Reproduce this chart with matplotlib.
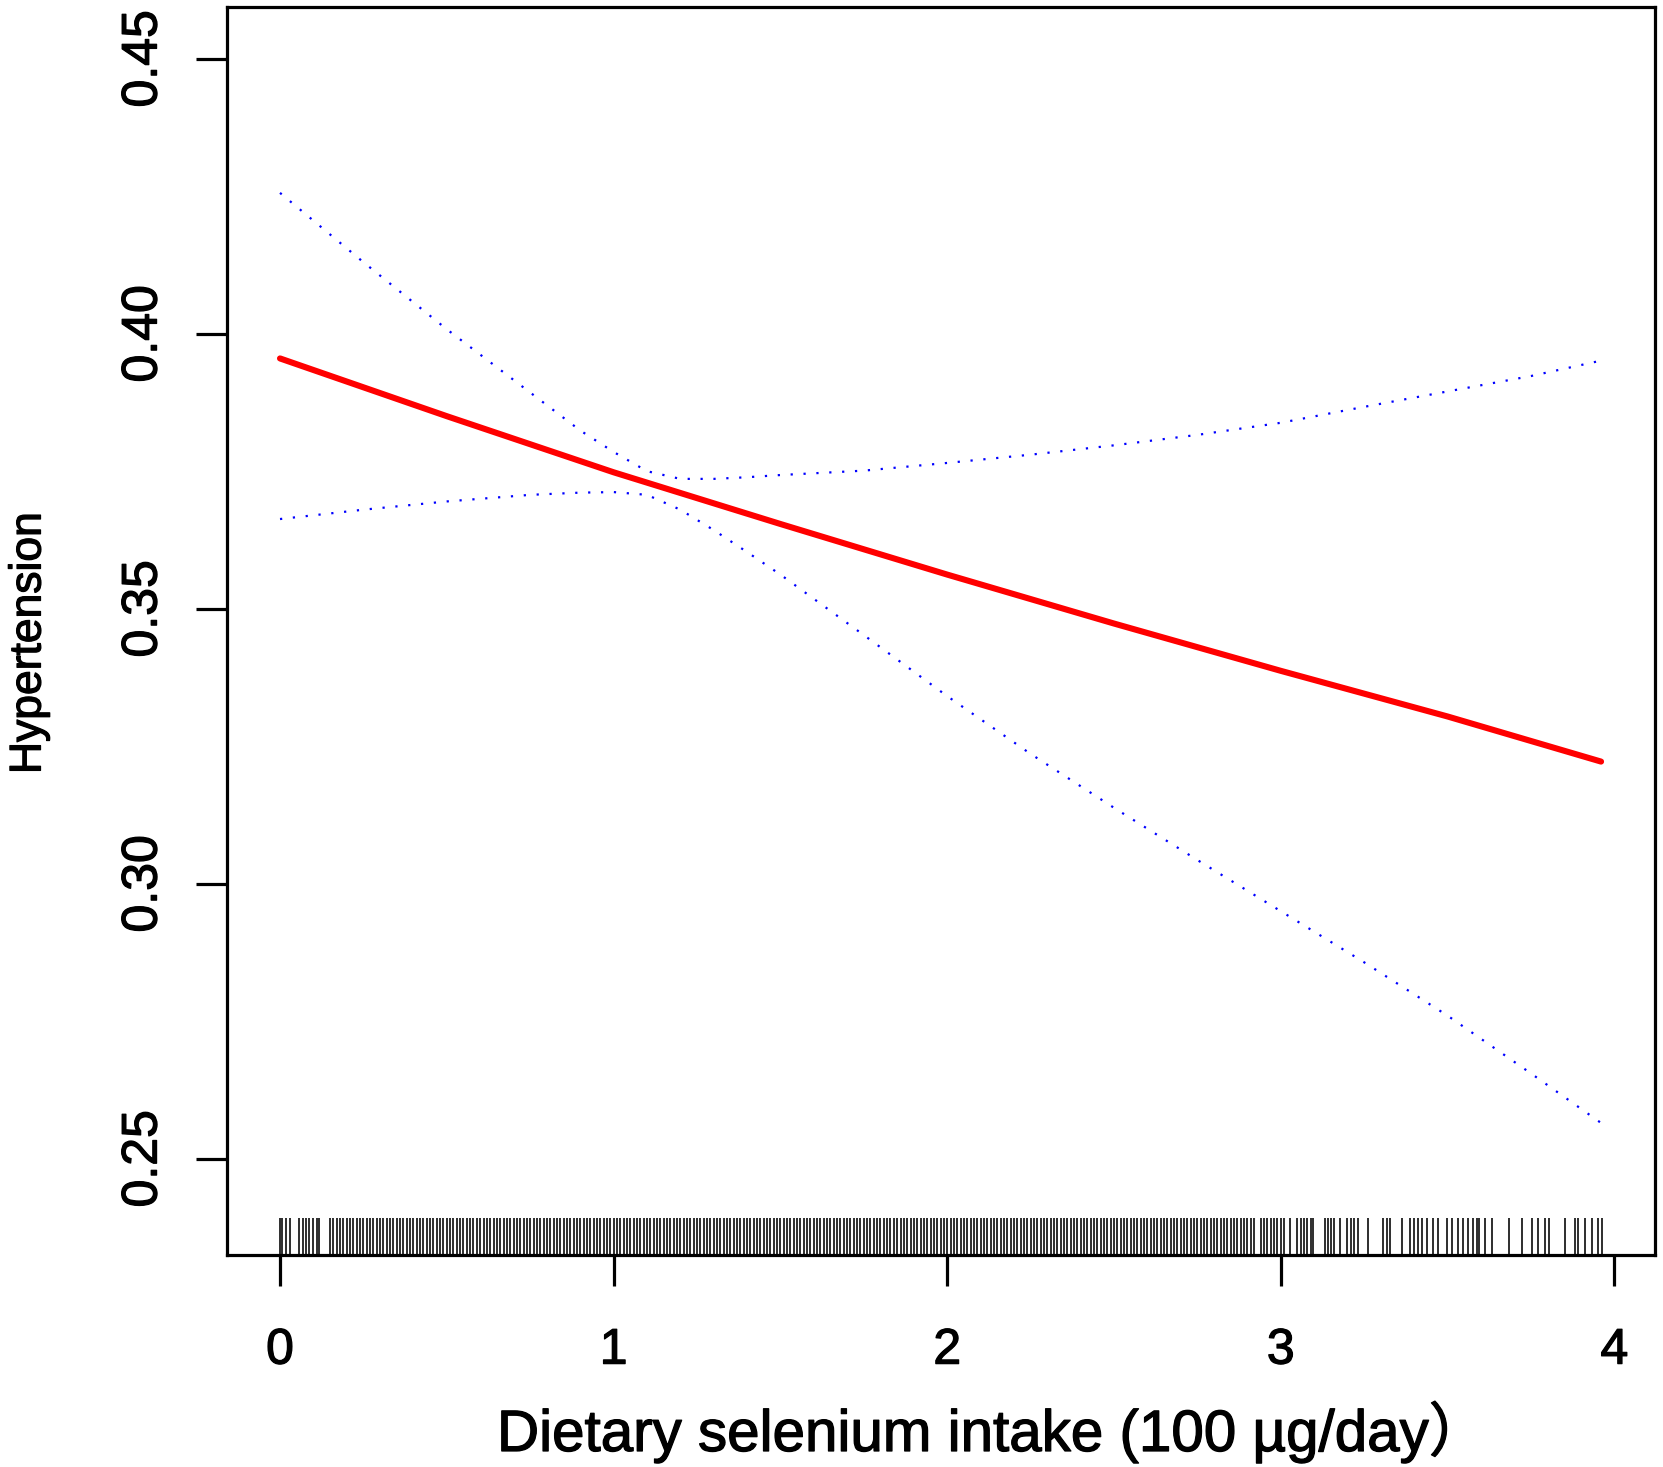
import matplotlib
matplotlib.use("Agg")
import matplotlib.pyplot as plt
import matplotlib.transforms as mtransforms
import matplotlib.patheffects as pe

# ---------------- data ----------------
fit_x = [0.0, 0.5, 1.0, 1.5, 2.0, 2.5, 3.0, 3.5, 3.96]
fit_y = [0.3955, 0.3850, 0.3748, 0.3654, 0.3562, 0.3473, 0.3387, 0.3304, 0.3222]

ci_x = [0.0, 0.25, 0.5, 0.75, 0.9, 1.0, 1.1, 1.2, 1.3, 1.4, 1.5, 1.75,
        2.0, 2.25, 2.5, 2.75, 3.0, 3.25, 3.5, 3.75, 3.96]
ci_upper = [0.4256, 0.4130, 0.4008, 0.3893, 0.3824, 0.3785, 0.3750, 0.3736,
            0.3736, 0.3739, 0.3743, 0.3751, 0.3765, 0.3780, 0.3797, 0.3816,
            0.3838, 0.3867, 0.3895, 0.3923, 0.3951]
ci_lower = [0.3663, 0.3680, 0.3695, 0.3707, 0.3711, 0.3712, 0.3707, 0.3680,
            0.3643, 0.3603, 0.3562, 0.3452, 0.3341, 0.3236, 0.3138, 0.3043,
            0.2950, 0.2857, 0.2760, 0.2655, 0.2565]

# rug (observed intakes, 100 ug/day)
rug_left = [0.0, 0.007, 0.017, 0.029, 0.058, 0.070, 0.078, 0.088, 0.098,
            0.110, 0.118]
rug_dense_hundredths = [
    15, 16, 17, 18, 19, 20, 21, 22, 23, 24, 25, 26, 27, 28, 29, 30, 31, 32, 33, 34,
    35, 36, 37, 38, 39, 40, 41, 42, 43, 44, 45, 46, 47, 48, 49, 50, 51, 52, 53, 54,
    55, 56, 57, 58, 59, 60, 61, 62, 63, 64, 65, 66, 67, 68, 69, 70, 71, 72, 73, 74,
    75, 76, 77, 78, 79, 80, 81, 82, 83, 84, 85, 86, 87, 88, 89, 90, 91, 92, 93, 94,
    95, 96, 97, 98, 99, 100, 101, 102, 103, 104, 105, 106, 107, 108, 109, 110, 111,
    112, 113, 114, 115, 116, 117, 118, 119, 120, 121, 122, 123, 124, 125, 126, 127,
    128, 129, 130, 131, 132, 133, 134, 135, 136, 137, 138, 139, 140, 141, 142, 143,
    144, 145, 146, 147, 148, 149, 150, 151, 152, 153, 154, 155, 156, 157, 158, 159,
    160, 161, 162, 163, 164, 165, 166, 167, 168, 169, 170, 171, 172, 173, 174, 175,
    176, 177, 178, 179, 180, 181, 182, 183, 184, 185, 186, 187, 188, 189, 190, 191,
    192, 193, 194, 195, 196, 197, 198, 199, 200, 201, 202, 203, 204, 205, 206, 207,
    208, 209, 210, 211, 212, 213, 214, 215, 216, 217, 218, 219, 220, 221, 222, 223,
    224, 225, 226, 227, 228, 229, 230, 231, 232, 233, 234, 235, 236, 237, 238, 239,
    240, 241, 242, 243, 244, 245, 246, 247, 248, 249, 250, 251, 252, 253, 254, 255,
    256, 257, 258, 259, 260, 261, 262, 263, 264, 265, 266, 267, 268, 269, 270, 271,
    272, 273, 274, 275, 276, 277, 278, 279, 280, 281, 282, 283, 284, 285, 286, 287,
    288, 289, 290, 291, 292]
rug_right = [2.94, 2.95, 2.96, 2.97, 2.98, 2.99, 3.00, 3.01, 3.028, 3.05, 3.06,
             3.07, 3.08, 3.09, 3.097, 3.132, 3.14, 3.15, 3.16, 3.177, 3.198, 3.21,
             3.22, 3.232, 3.262, 3.307, 3.317, 3.327, 3.362, 3.387, 3.40, 3.41,
             3.422, 3.437, 3.457, 3.472, 3.497, 3.512, 3.532, 3.547, 3.562,
             3.575, 3.587, 3.595, 3.612, 3.632, 3.684, 3.722, 3.752, 3.772,
             3.792, 3.804, 3.852, 3.882, 3.890, 3.912, 3.932, 3.952, 3.962]

x_ticks = [0, 1, 2, 3, 4]
x_tick_labels = ["0", "1", "2", "3", "4"]
y_ticks = [0.25, 0.30, 0.35, 0.40, 0.45]
y_tick_labels = ["0.25", "0.30", "0.35", "0.40", "0.45"]

x_label = "Dietary selenium intake (100 \u00b5g/day\uff09"
y_label = "Hypertension"

# ---------------- figure ----------------
plt.rcParams["font.family"] = ["Liberation Sans", "Noto Sans CJK SC", "DejaVu Sans"]

W, H = 1663, 1467
fig = plt.figure(figsize=(W / 100, H / 100), dpi=100)
fig.patch.set_facecolor("white")
ax = fig.add_axes([226.7 / W, 1 - 1255 / H, (1655 - 226.7) / W, (1255 - 7.2) / H])

ax.plot(fit_x, fit_y, color="#FF0000", lw=4.4, solid_capstyle="round", zorder=3)
ax.plot(ci_x, ci_upper, color="#0000FF", lw=1.6, linestyle=(0, (1, 4.8)), zorder=2)
ax.plot(ci_x, ci_lower, color="#0000FF", lw=1.6, linestyle=(0, (1, 4.8)), zorder=2)

rug_x = rug_left + [v / 100 for v in rug_dense_hundredths] + rug_right
trans = mtransforms.blended_transform_factory(ax.transData, ax.transAxes)
ax.vlines(rug_x, 0, 0.0297, transform=trans, color="black", lw=1.15, zorder=1)

ax.set_xlim(-0.1598, 4.1217)
ax.set_ylim(0.23249, 0.45936)

ax.set_xticks(x_ticks)
ax.set_xticklabels(x_tick_labels)
ax.set_yticks(y_ticks)
ax.set_yticklabels(y_tick_labels, rotation=90, va="center")

for sp in ax.spines.values():
    sp.set_linewidth(2.3)
    sp.set_color("black")

ax.tick_params(axis="both", direction="out", length=22.3, width=2.3,
               labelsize=36, colors="black")
ax.tick_params(axis="x", pad=30)
ax.tick_params(axis="y", pad=21)

thick = [pe.withStroke(linewidth=0.9, foreground="black")]
for lbl in ax.get_xticklabels() + ax.get_yticklabels():
    lbl.set_path_effects(thick)

fig.text(497 / W, 1 - 1451 / H, x_label, ha="left", va="baseline", fontsize=42,
         path_effects=thick)
fig.text(40.5 / W, 1 - 643 / H, y_label, rotation=90, rotation_mode="anchor",
         ha="center", va="baseline", fontsize=32, path_effects=thick)

fig.savefig("out.png", dpi=100, facecolor="white")
